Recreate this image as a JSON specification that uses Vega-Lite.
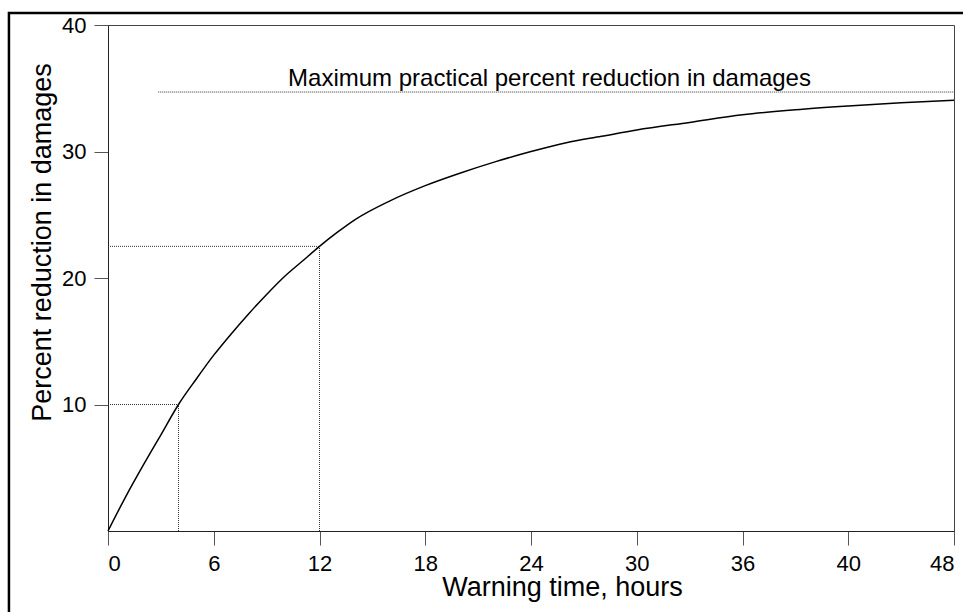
{
  "$schema": "https://vega.github.io/schema/vega-lite/v6.json",
  "width": 846,
  "height": 506,
  "autosize": {"type": "none"},
  "padding": {"left": 108, "top": 25, "right": 9, "bottom": 81},
  "background": "white",
  "config": {
    "font": "Liberation Sans",
    "view": {"stroke": "#444", "strokeWidth": 1},
    "axis": {
      "grid": false,
      "domainColor": "#222",
      "tickColor": "#555",
      "tickSize": 14,
      "labelFont": "Liberation Sans",
      "labelFontSize": 22,
      "labelColor": "#000",
      "titleFont": "Liberation Sans",
      "titleFontSize": 27,
      "titleFontWeight": "normal",
      "titleColor": "#000"
    }
  },
  "datasets": {
    "curve": [
      {"hours": 0, "pct": 0},
      {"hours": 1, "pct": 2.7},
      {"hours": 2, "pct": 5.2},
      {"hours": 3, "pct": 7.6},
      {"hours": 4, "pct": 10.0},
      {"hours": 5, "pct": 12.0},
      {"hours": 6, "pct": 13.9},
      {"hours": 7, "pct": 15.6},
      {"hours": 8, "pct": 17.2},
      {"hours": 9, "pct": 18.7},
      {"hours": 10, "pct": 20.1},
      {"hours": 11, "pct": 21.3},
      {"hours": 12, "pct": 22.5},
      {"hours": 13, "pct": 23.6},
      {"hours": 14, "pct": 24.6},
      {"hours": 16, "pct": 26.1},
      {"hours": 18, "pct": 27.3},
      {"hours": 20, "pct": 28.3},
      {"hours": 22, "pct": 29.2},
      {"hours": 24, "pct": 30.0},
      {"hours": 26, "pct": 30.7},
      {"hours": 28, "pct": 31.2},
      {"hours": 30, "pct": 31.7},
      {"hours": 33, "pct": 32.3},
      {"hours": 36, "pct": 32.9},
      {"hours": 39, "pct": 33.3},
      {"hours": 42, "pct": 33.6},
      {"hours": 45, "pct": 33.85},
      {"hours": 48, "pct": 34.05}
    ],
    "guides": [
      {"x": 0, "x2": 4, "y": 10, "y2": 10, "kind": "h"},
      {"x": 4, "x2": 4, "y": 0, "y2": 10, "kind": "v"},
      {"x": 0, "x2": 12, "y": 22.5, "y2": 22.5, "kind": "h"},
      {"x": 12, "x2": 12, "y": 0, "y2": 22.5, "kind": "v"},
      {"x": 2.85, "x2": 48, "y": 34.7, "y2": 34.7, "kind": "max"}
    ],
    "notes": [
      {"x": 25.05, "y": 35.2, "label": "Maximum practical percent reduction in damages"}
    ]
  },
  "layer": [
    {
      "data": {"name": "guides"},
      "mark": {"type": "rule", "strokeDash": [1, 1], "strokeWidth": 1, "color": "#333"},
      "encoding": {
        "x": {"field": "x", "type": "quantitative", "scale": {"domain": [0, 48], "nice": false},
          "axis": {"values": [0, 6, 12, 18, 24, 30, 36, 42, 48], "labelExpr": "datum.value == 42 ? '40' : datum.label", "labelPadding": 8, "title": "Warning time, hours", "titleX": 454, "titleY": 64, "titleAlign": "center", "titleBaseline": "alphabetic"}},
        "x2": {"field": "x2"},
        "y": {"field": "y", "type": "quantitative", "scale": {"domain": [0, 40], "nice": false},
          "axis": {"values": [10, 20, 30, 40], "labelPadding": 8, "title": "Percent reduction in damages", "titleX": -58, "titleY": 217, "titleAngle": -90, "titleAlign": "center", "titleBaseline": "alphabetic"}},
        "y2": {"field": "y2"}
      }
    },
    {
      "data": {"name": "curve"},
      "mark": {"type": "line", "interpolate": "monotone", "color": "#000", "strokeWidth": 1.5},
      "encoding": {
        "x": {"field": "hours", "type": "quantitative"},
        "y": {"field": "pct", "type": "quantitative"}
      }
    },
    {
      "data": {"name": "notes"},
      "mark": {"type": "text", "fontSize": 24, "font": "Liberation Sans", "align": "center", "baseline": "alphabetic", "color": "#000"},
      "encoding": {
        "x": {"field": "x", "type": "quantitative"},
        "y": {"field": "y", "type": "quantitative"},
        "text": {"field": "label"}
      }
    },
    {
      "data": {"values": [{}]},
      "mark": {"type": "rect", "fill": null, "stroke": "#000", "strokeWidth": 2.5, "clip": false},
      "encoding": {
        "x": {"datum": -5.62},
        "x2": {"datum": 60},
        "y": {"datum": 40.95},
        "y2": {"datum": -10}
      }
    }
  ]
}
